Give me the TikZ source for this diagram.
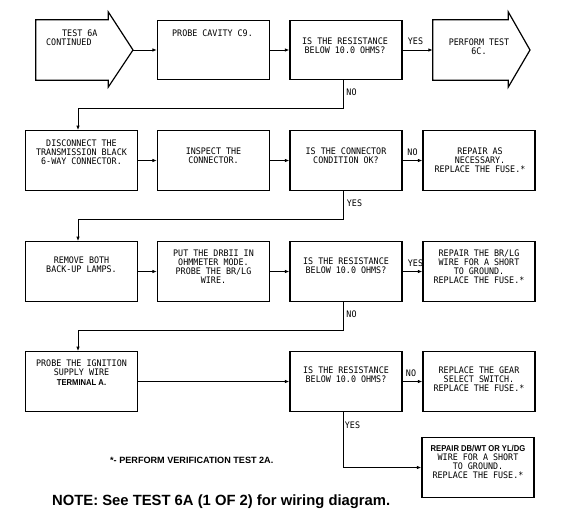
\documentclass[tikz,border=0pt]{standalone}
\usepackage{fontspec}
\usetikzlibrary{arrows.meta,calc}
\newfontfamily\plotfam[FakeStretch=0.93]{DejaVu Sans Mono}
\newfontfamily\lsans{Liberation Sans}
\newfontfamily\lsansn[FakeStretch=0.9]{Liberation Sans}
\newcommand\plotfnt{\plotfam\fontsize{9}{9}\selectfont}
\begin{document}
\begin{tikzpicture}[x=1pt,y=-1pt,
  box/.style={draw, line width=1.2pt, minimum width=112pt, minimum height=59.5pt, inner sep=0pt},
  body/.style={minimum height=60pt, inner sep=0pt},
  arrowshape/.style={draw, line width=1.2pt, line join=miter},
  txt/.style={font=\plotfnt, align=center, inner sep=0pt, anchor=north},
  lbl/.style={font=\plotfnt, inner sep=0pt},
  conn/.style={line width=0.9pt, -{Latex[length=4.5pt,width=3.5pt]}},
  line/.style={line width=0.9pt}]
\useasboundingbox (0,0) rectangle (570,528);

% ---- row 1
\node[body, minimum width=72pt] (A1) at (72,50) {};
\coordinate (A1tip) at (133,50);
\draw[arrowshape] (A1.north west) -- (A1.north east) -- ++(0,-8) -- (A1tip)
  -- ($(A1.south east)+(0,7)$) -- (A1.south east) -- (A1.south west) -- cycle;
\node[txt, anchor=north west, align=left] (tA1) at (46,29.7) {\hspace*{16pt}TEST 6A\\CONTINUED};

\node[box] (B1) at (213.5,50) {};
\node[txt] (tB1) at ($(B1.north)+(-1,9.7)$) {PROBE CAVITY C9.};

\node[box] (C1) at (346,50) {};
\node[txt] (tC1) at ($(C1.north)+(-1,18.2)$) {IS THE RESISTANCE\\BELOW 10.0 OHMS?};

\node[body, minimum width=75pt] (D1) at (470.5,50) {};
\coordinate (D1tip) at (530,50);
\draw[arrowshape] (D1.north west) -- (D1.north east) -- ++(0,-8) -- (D1tip)
  -- ($(D1.south east)+(0,7)$) -- (D1.south east) -- (D1.south west) -- cycle;
\node[txt] (tD1) at (479,38.2) {PERFORM TEST\\6C.};

% ---- row 2
\node[box] (A2) at (81.5,160.5) {};
\node[txt] (tA2) at ($(A2.north)+(0,9)$) {DISCONNECT THE\\TRANSMISSION BLACK\\6-WAY CONNECTOR.};
\node[box] (B2) at (213.5,160.5) {};
\node[txt] (tB2) at ($(B2.north)+(0,17.7)$) {INSPECT THE\\CONNECTOR.};
\node[box] (C2) at (346,160.5) {};
\node[txt] (tC2) at ($(C2.north)+(0,17.7)$) {IS THE CONNECTOR\\CONDITION OK?};
\node[box] (D2) at (479,160.5) {};
\node[txt] (tD2) at ($(D2.north)+(1,17.7)$) {REPAIR AS\\NECESSARY.\\REPLACE THE FUSE.*};

% ---- row 3
\node[box] (A3) at (81.5,271.5) {};
\node[txt] (tA3) at ($(A3.north)+(0,15.7)$) {REMOVE BOTH\\BACK-UP LAMPS.};
\node[box] (B3) at (213.5,271.5) {};
\node[txt] (tB3) at ($(B3.north)+(0,8.7)$) {PUT THE DRBII IN\\OHMMETER MODE.\\PROBE THE BR/LG\\WIRE.};
\node[box] (C3) at (346,271.5) {};
\node[txt] (tC3) at ($(C3.north)+(0,16.7)$) {IS THE RESISTANCE\\BELOW 10.0 OHMS?};
\node[box] (D3) at (479,271.5) {};
\node[txt] (tD3) at ($(D3.north)+(0,8.7)$) {REPAIR THE BR/LG\\WIRE FOR A SHORT\\TO GROUND.\\REPLACE THE FUSE.*};

% ---- row 4
\node[box] (A4) at (81.5,381.5) {};
\node[txt] (tA4) at ($(A4.north)+(0,8.7)$) {PROBE THE IGNITION\\SUPPLY WIRE\\[1pt]{\lsansn\bfseries\fontsize{8.5}{8.5}\selectfont TERMINAL A.}};
\node[box] (C4) at (346,381.5) {};
\node[txt] (tC4) at ($(C4.north)+(0,15.7)$) {IS THE RESISTANCE\\BELOW 10.0 OHMS?};
\node[box] (D4) at (479,381.5) {};
\node[txt] (tD4) at ($(D4.north)+(0,15.7)$) {REPLACE THE GEAR\\SELECT SWITCH.\\REPLACE THE FUSE.*};

% ---- row 5
\node[box] (D5) at (478,467.5) {};
\node[txt] (tD5) at ($(D5.north)+(0,8.3)$) {{\lsansn\bfseries\fontsize{8.5}{8.5}\selectfont REPAIR DB/WT OR YL/DG}\\WIRE FOR A SHORT\\TO GROUND.\\REPLACE THE FUSE.*};

% ---- connectors
\draw[conn] (A1tip) -- (B1.west);
\draw[conn] (B1.east) -- (C1.west);
\draw[conn] (C1.east) -- (D1.west);
\draw[conn] ([xshift=-3pt]C1.south) -- ++(0,28) -| ([xshift=-3.5pt]A2.north);

\draw[conn] (A2.east) -- (B2.west);
\draw[conn] (B2.east) -- (C2.west);
\draw[conn] (C2.east) -- (D2.west);
\draw[conn] ([xshift=-3pt]C2.south) -- ++(0,29) -| ([xshift=-3.5pt]A3.north);

\draw[conn] (A3.east) -- (B3.west);
\draw[conn] (B3.east) -- (C3.west);
\draw[conn] (C3.east) -- (D3.west);
\draw[conn] ([xshift=-3pt]C3.south) -- ++(0,29) -| ([xshift=-3.5pt]A4.north);

\draw[conn] (A4.east) -- (C4.west);
\draw[conn] (C4.east) -- (D4.west);
\draw[conn] ([xshift=-3pt]C4.south) |- (D5.west);

% ---- labels
\node[lbl] (yes1) at (415.5,41.5) {YES};
\node[lbl] (no1) at (351.5,92) {NO};
\node[lbl] (no2) at (412.5,152) {NO};
\node[lbl] (yes2) at (354.5,203) {YES};
\node[lbl] (yes3) at (415.5,263) {YES};
\node[lbl] (no3) at (351.5,314) {NO};
\node[lbl] (no4) at (411,373) {NO};
\node[lbl] (yes4) at (352.5,425) {YES};

% ---- notes
\node[anchor=base west, inner sep=0pt, font=\lsans\bfseries\fontsize{9.1}{9.1}\selectfont] (foot) at (110,463) {*- PERFORM VERIFICATION TEST 2A.};
\node[anchor=base west, inner sep=0pt, font=\lsans\bfseries\fontsize{14.8}{14.8}\selectfont] (note) at (52,505) {NOTE: See TEST 6A (1 OF 2) for wiring diagram.};
\end{tikzpicture}
\end{document}
